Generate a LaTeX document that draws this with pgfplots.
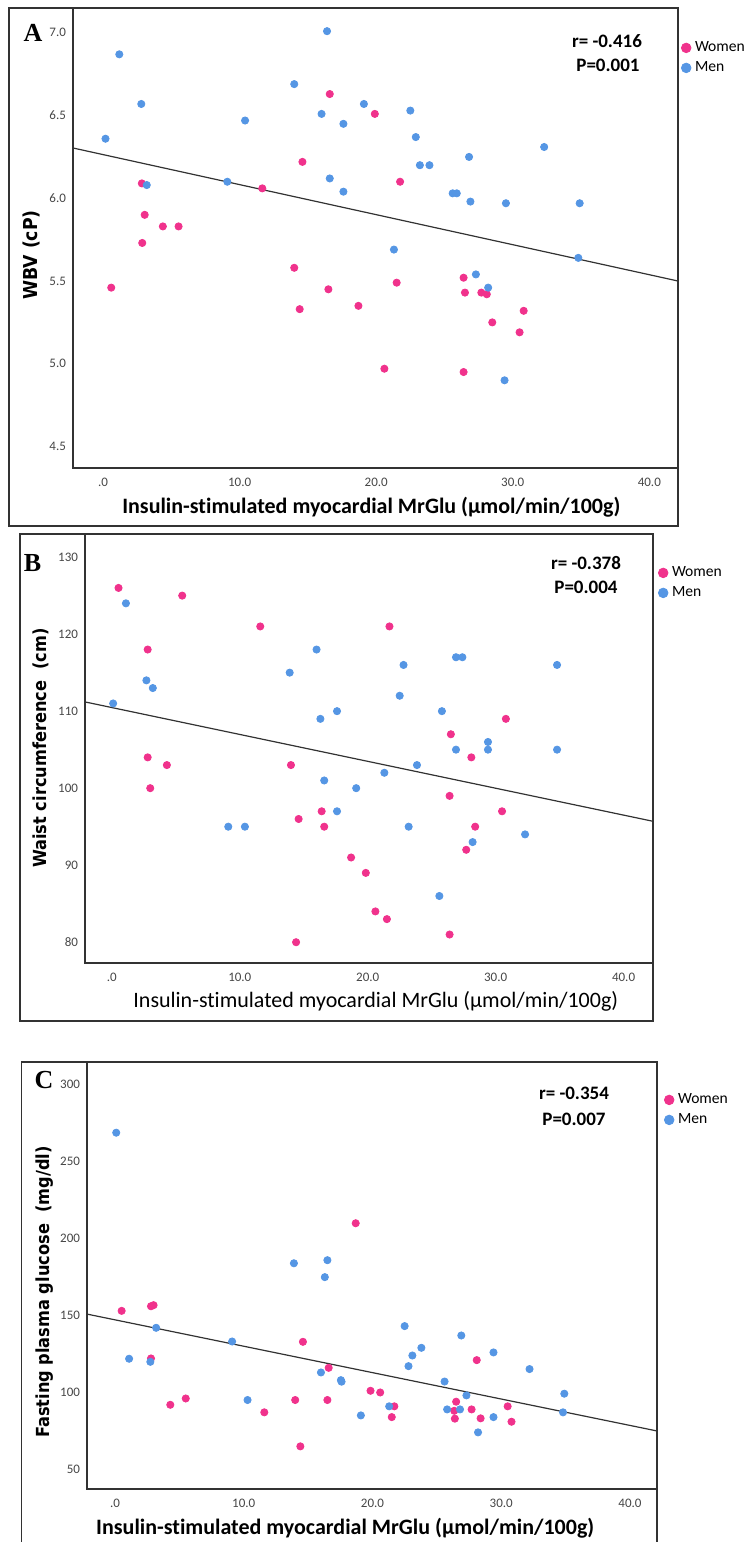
\documentclass[border=0pt]{standalone}
\usepackage{fontspec}
\usepackage{pgfplots}
\pgfplotsset{compat=1.18}
\setmainfont{Carlito}[Ligatures=NoCommon]
\newfontfamily\carlito{Carlito}[Ligatures=NoCommon]
\newfontfamily\ylabfont[FakeStretch=0.9]{DejaVu Sans}
\newfontfamily\serifpanel{Liberation Serif}
\definecolor{pinkc}{RGB}{240,50,140}
\definecolor{bluec}{RGB}{85,150,228}
\definecolor{framec}{RGB}{50,50,50}
\definecolor{tickc}{RGB}{70,70,70}
\pgfplotsset{
  spssaxis/.style={
    scale only axis,
    anchor=north west,
    axis line style={draw=framec, line width=0.6pt},
    major tick length=0pt,
    tick style={draw=none},
    tick label style={font=\carlito\fontsize{6.5}{7}\selectfont, text=tickc},
    xticklabel style={yshift=-1.5pt},
    xtick={0,10,20,30,40},
    xticklabels={.0,10.0,20.0,30.0,40.0},
    clip=false,
    legend cell align=left,
    legend image code/.code={\draw[#1,mark size=2.4pt] plot coordinates {(0pt,0pt)};},
    legend style={draw=none, fill=none, font=\carlito\fontsize{7.8}{8}\selectfont,
      inner sep=0pt, row sep=-0.5pt, anchor=north west},
  },
  womenp/.style={only marks, mark=*, mark size=1.8pt, color=pinkc, mark options={draw=none, fill=pinkc}},
  menp/.style={only marks, mark=*, mark size=1.8pt, color=bluec, mark options={draw=none, fill=bluec}},
  regl/.style={no marks, color=framec, line width=0.6pt, forget plot},
}
\begin{document}
\begin{tikzpicture}
\useasboundingbox (0pt,0pt) rectangle (373pt,-771pt);
% ---------------- Panel A ----------------
\draw[framec, line width=0.6pt] (4.5pt,-4pt) rectangle (339pt,-263pt);
\begin{axis}[spssaxis,
  at={(36.5pt,-4pt)}, width=302.5pt, height=230pt,
  xmin=-2.2, xmax=42.1, ymin=4.37, ymax=7.15,
  ytick={4.5,5.0,5.5,6.0,6.5,7.0},
  yticklabels={4.5,5.0,5.5,6.0,6.5,7.0},
  xlabel={\carlito\bfseries\fontsize{11}{13}\selectfont Insulin-stimulated myocardial MrGlu (µmol/min/100g)},
  xlabel style={at={(rel axis cs:0.493,-0.0848)}, anchor=center},
  ylabel={\ylabfont\bfseries\fontsize{9.6}{12}\selectfont WBV (cP)},
  ylabel style={at={(rel axis cs:-0.0694,0.463)}, anchor=center},
  legend style={at={(rel axis cs:1,1)}, xshift=1.5pt, yshift=-14.5pt},
]
\addplot[regl] coordinates {(-2.2,6.304) (42.1,5.50)};
\addplot[womenp] coordinates {
(16.6,6.63) (19.9,6.51) (14.6,6.22) (21.75,6.10) (2.84,6.09) (11.66,6.06)
(3.05,5.90) (4.38,5.83) (5.53,5.83) (2.87,5.73) (0.6,5.46) (14.0,5.58)
(16.5,5.45) (14.4,5.33) (18.7,5.35) (21.5,5.49) (26.4,5.52) (26.5,5.43)
(27.7,5.43) (28.1,5.42) (28.5,5.25) (30.8,5.32) (30.5,5.19) (20.6,4.97)
(26.4,4.95)};
\addlegendentry{Women}
\addplot[menp] coordinates {
(16.4,7.01) (1.19,6.87) (14.0,6.69) (2.8,6.57) (19.1,6.57) (16.0,6.51)
(22.5,6.53) (10.4,6.47) (17.6,6.45) (0.18,6.36) (22.9,6.37) (32.3,6.31)
(26.8,6.25) (23.2,6.20) (23.9,6.20) (3.2,6.08) (9.1,6.10) (16.6,6.12)
(17.6,6.04) (25.6,6.03) (25.9,6.03) (26.9,5.98) (29.5,5.97) (34.9,5.97)
(21.3,5.69) (34.8,5.64) (27.3,5.54) (28.2,5.46) (29.4,4.90)};
\addlegendentry{Men}
\end{axis}
\node[font=\serifpanel\bfseries\fontsize{13}{14}\selectfont] at (16.5pt,-16.5pt) {A};
\node[font=\carlito\bfseries\fontsize{9.5}{11}\selectfont] at (303.5pt,-20.5pt) {r= -0.416};
\node[font=\carlito\bfseries\fontsize{9.5}{11}\selectfont] at (304pt,-32.5pt) {P=0.001};
% ---------------- Panel B ----------------
\draw[framec, line width=0.6pt] (10pt,-267pt) rectangle (326.5pt,-510.5pt);
\begin{axis}[spssaxis,
  at={(42.5pt,-267pt)}, width=284pt, height=214.5pt,
  xmin=-2.1, xmax=42.3, ymin=77.3, ymax=133.0,
  ytick={80,90,100,110,120,130},
  yticklabels={80,90,100,110,120,130},
  xlabel={\carlito\fontsize{11}{13}\selectfont Insulin-stimulated myocardial MrGlu (µmol/min/100g)},
  xlabel style={at={(rel axis cs:0.512,-0.0886)}, anchor=center},
  ylabel={\ylabfont\bfseries\fontsize{9}{11}\selectfont Waist circumference \ (cm)},
  ylabel style={at={(rel axis cs:-0.0775,0.501)}, anchor=center},
  legend style={at={(rel axis cs:1,1)}, xshift=2.5pt, yshift=-14pt},
]
\addplot[regl] coordinates {(-2.1,111.2) (42.3,95.7)};
\addplot[womenp] coordinates {
(0.52,126) (5.5,125) (11.6,121) (21.7,121) (2.8,118) (2.8,104) (4.3,103)
(3.0,100) (14.0,103) (26.5,107) (30.8,109) (28.1,104) (26.4,99) (30.5,97)
(16.4,97) (14.6,96) (16.6,95) (28.4,95) (27.7,92) (18.7,91) (19.85,89)
(20.6,84) (21.5,83) (26.4,81) (14.4,80)};
\addlegendentry{Women}
\addplot[menp] coordinates {
(1.1,124) (16.0,118) (13.9,115) (22.8,116) (26.9,117) (27.4,117) (34.8,116)
(2.7,114) (3.2,113) (22.5,112) (0.1,111) (25.8,110) (17.6,110) (16.3,109)
(29.4,106) (26.9,105) (29.4,105) (34.8,105) (23.85,103) (21.3,102) (16.6,101)
(19.1,100) (17.6,97) (9.1,95) (10.4,95) (23.2,95) (32.3,94) (28.2,93) (25.6,86)};
\addlegendentry{Men}
\end{axis}
\node[font=\serifpanel\bfseries\fontsize{13}{14}\selectfont] at (16.25pt,-281.5pt) {B};
\node[font=\carlito\bfseries\fontsize{9.5}{11}\selectfont] at (293pt,-281.5pt) {r= -0.378};
\node[font=\carlito\bfseries\fontsize{9.5}{11}\selectfont] at (293pt,-293.5pt) {P=0.004};
% ---------------- Panel C ----------------
\draw[framec, line width=0.6pt] (10.75pt,-780pt) -- (10.75pt,-531pt) -- (328.5pt,-531pt) -- (328.5pt,-780pt);
\begin{axis}[spssaxis,
  at={(43.5pt,-531pt)}, width=285pt, height=213.5pt,
  xmin=-2.17, xmax=42.1, ymin=37.0, ymax=314.3,
  ytick={50,100,150,200,250,300},
  yticklabels={50,100,150,200,250,300},
  xlabel={\carlito\bfseries\fontsize{11}{13}\selectfont Insulin-stimulated myocardial MrGlu (µmol/min/100g)},
  xlabel style={at={(rel axis cs:0.453,-0.0913)}, anchor=center},
  ylabel={\ylabfont\bfseries\fontsize{9}{11}\selectfont Fasting plasma glucose \ (mg/dl)},
  ylabel style={at={(rel axis cs:-0.0737,0.461)}, anchor=center},
  legend style={at={(rel axis cs:1,1)}, xshift=3.5pt, yshift=-13.5pt},
]
\addplot[regl] coordinates {(-2.17,150.6) (42.1,74.7)};
\addplot[womenp] coordinates {
(18.7,209.6) (0.52,152.7) (2.8,155.7) (3.0,156.4) (14.6,132.6) (2.8,121.8)
(28.1,120.7) (16.6,115.7) (4.3,91.7) (5.5,95.8) (11.6,86.8) (14.0,94.8)
(16.5,94.8) (19.85,100.8) (20.6,99.7) (21.7,90.7) (21.5,83.7) (26.5,93.7)
(26.35,87.8) (26.4,82.7) (27.7,88.7) (28.4,82.9) (30.5,90.7) (30.8,80.7)
(14.4,64.7)};
\addlegendentry{Women}
\addplot[menp] coordinates {
(0.1,268.4) (13.9,183.6) (16.5,185.6) (16.3,174.6) (3.2,141.7) (22.5,142.8)
(9.1,132.8) (26.9,136.7) (23.8,128.7) (23.1,123.7) (29.4,125.7) (1.1,121.6)
(2.75,119.6) (22.8,116.8) (16.0,112.7) (32.2,114.9) (17.55,107.7) (17.6,106.7)
(25.6,106.8) (10.3,94.8) (27.3,97.8) (34.9,98.9) (21.3,90.7) (25.8,88.7)
(26.8,88.7) (19.1,84.8) (29.4,83.7) (34.8,86.8) (28.2,73.8)};
\addlegendentry{Men}
\end{axis}
\node[font=\serifpanel\bfseries\fontsize{13}{14}\selectfont] at (22pt,-540pt) {C};
\node[font=\carlito\bfseries\fontsize{9.5}{11}\selectfont] at (287pt,-546.5pt) {r= -0.354};
\node[font=\carlito\bfseries\fontsize{9.5}{11}\selectfont] at (287pt,-559.5pt) {P=0.007};
\end{tikzpicture}
\end{document}
